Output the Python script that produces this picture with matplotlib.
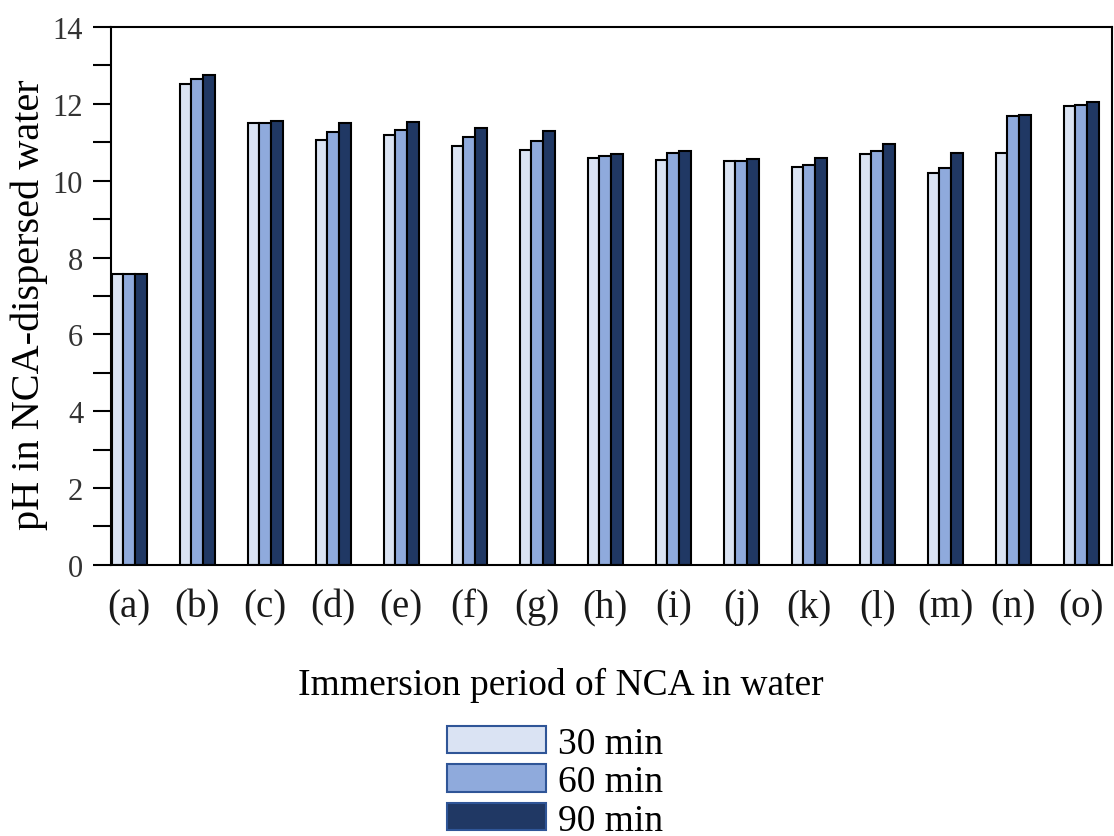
import matplotlib
matplotlib.use("Agg")
import matplotlib.pyplot as plt
from matplotlib.patches import Patch
from matplotlib.ticker import MultipleLocator
import numpy as np

plt.rcParams['font.family'] = ['Liberation Serif', 'DejaVu Serif']

samples = ["(a)", "(b)", "(c)", "(d)", "(e)", "(f)", "(g)", "(h)",
           "(i)", "(j)", "(k)", "(l)", "(m)", "(n)", "(o)"]
ph_30 = [7.56, 12.52, 11.49, 11.07, 11.20, 10.90, 10.80, 10.60,
         10.54, 10.51, 10.35, 10.69, 10.19, 10.72, 11.94]
ph_60 = [7.56, 12.65, 11.49, 11.27, 11.33, 11.15, 11.04, 10.63,
         10.71, 10.51, 10.42, 10.78, 10.32, 11.68, 11.97]
ph_90 = [7.56, 12.74, 11.56, 11.49, 11.52, 11.36, 11.29, 10.69,
         10.78, 10.57, 10.60, 10.96, 10.72, 11.71, 12.06]
periods = ["30 min", "60 min", "90 min"]
colors = ["#dae3f3", "#8faadc", "#203864"]

fig = plt.figure(figsize=(11.14, 8.37), dpi=100)
ax = fig.add_axes([0.0996, 0.324, 0.8984, 0.6425])

x = np.arange(len(samples))
w = 0.172
for k, vals in enumerate([ph_30, ph_60, ph_90]):
	ax.bar(x + (k - 1) * w, vals, w, color=colors[k], edgecolor="black",
	       linewidth=1.5, zorder=2)

ax.set_xlim(-0.27, 14.45)
ax.set_ylim(0, 14)
ax.set_xticks(x)
ax.set_xticklabels(samples, fontsize=28, color="#1a1a1a")
ax.tick_params(axis="x", length=0, pad=17)
ax.yaxis.set_major_locator(MultipleLocator(2))
ax.yaxis.set_minor_locator(MultipleLocator(1))
ax.tick_params(axis="y", which="both", direction="out", length=13, width=1.5,
               labelsize=22, pad=7, labelcolor="#333333")
ax.set_ylabel("pH in NCA-dispersed water", fontsize=29)
ax.yaxis.set_label_coords(-0.063, 0.485)
for s in ax.spines.values():
	s.set_linewidth(1.5)

fig.text(0.503, 1 - 685 / 837, "Immersion period of NCA in water",
         fontsize=27, ha="center", va="center")
handles = [Patch(facecolor=colors[k], edgecolor="#2f5597", linewidth=1.5,
                 label=periods[k]) for k in range(3)]
leg = fig.legend(handles=handles, loc="upper center", bbox_to_anchor=(0.498, 1 - 708 / 837),
                 frameon=False, fontsize=27, handlelength=2.65, handleheight=0.75,
                 labelspacing=0.1, handletextpad=0.3, borderpad=0)

fig.savefig("out.png", dpi=100)
